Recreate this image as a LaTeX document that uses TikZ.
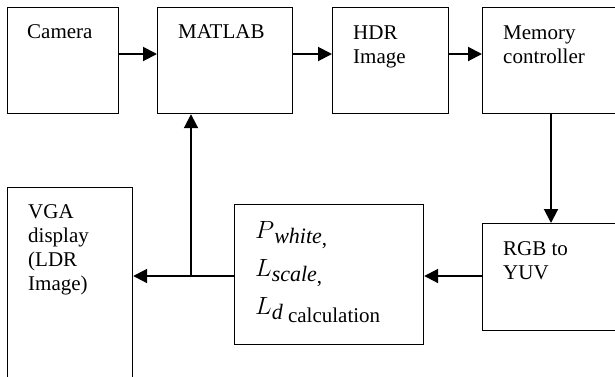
\documentclass[tikz,border=0pt]{standalone}
\usepackage{fontspec}
\setmainfont{Liberation Serif}
\usetikzlibrary{arrows.meta, positioning, calc}
\newcommand{\sub}[1]{\raisebox{-5pt}{\fontsize{22}{22}\selectfont\itshape #1}}

\begin{document}
\begin{tikzpicture}[
    x=1pt, y=-1pt,
    font=\rmfamily\fontsize{21}{24}\selectfont,
    box/.style={draw, line width=1.2pt, anchor=north west, inner sep=0pt},
    lbl/.style={anchor=north west, align=left, inner sep=0pt, xshift=21pt},
    arr/.style={-{Triangle[length=14pt, width=14pt]}, line width=2pt}
  ]
    \clip (0,0) rectangle (615,376);
    % top row
    \node[box, minimum width=111pt, minimum height=106pt,
      label={[lbl, xshift=-1pt, yshift=-17pt]north west:Camera}] (cam) at (7,7) {};
    \node[box, minimum width=135pt, minimum height=106pt,
      label={[lbl, yshift=-17pt]north west:MATLAB}] (mat) at (157,7) {};
    \node[box, minimum width=116pt, minimum height=106pt,
      label={[lbl, yshift=-19pt]north west:HDR\\Image}] (hdr) at (332,7) {};
    \node[box, minimum width=150pt, minimum height=106pt,
      label={[lbl, yshift=-19pt]north west:Memory\\controller}] (mem) at (482,7) {};
    % bottom row
    \node[box, minimum width=125pt, minimum height=220pt,
      label={[lbl, yshift=-17pt]north west:VGA\\display\\(LDR\\Image)}] (vga) at (7,187) {};
    \node[box, minimum width=189pt, minimum height=140pt,
      label={[lbl, yshift=-17pt, font=\fontsize{28}{38}\selectfont]north west:%
        $P$\sub{white}\raisebox{-7pt}{\fontsize{21}{24}\selectfont,}\\
        $L$\sub{scale}\raisebox{-7pt}{\fontsize{21}{24}\selectfont,}\\
        $L$\sub{d}\raisebox{-8pt}{\fontsize{21}{24}\selectfont\ calculation}}] (calc) at (234,204) {};
    \node[box, minimum width=150pt, minimum height=107pt,
      label={[lbl, yshift=-18pt]north west:RGB to\\YUV}] (rgb) at (482,223) {};
    \coordinate (jn) at (191,276);
    % connectors
    \draw[arr] ([yshift=-47pt]cam.north east) -- ([yshift=-47pt]mat.north west);
    \draw[arr] ([yshift=-47pt]mat.north east) -- ([yshift=-47pt]hdr.north west);
    \draw[arr] ([yshift=-47pt]hdr.north east) -- ([yshift=-47pt]mem.north west);
    \draw[arr] ([xshift=69pt]mem.south west) -- ([xshift=69pt]rgb.north west);
    \draw[arr] ([yshift=-53pt]rgb.north west) -- (calc.east |- jn);
    \draw[arr] (calc.west |- jn) -- (vga.east |- jn);
    \draw[arr] (jn) -- (jn |- mat.south);
  \end{tikzpicture}
\end{document}
